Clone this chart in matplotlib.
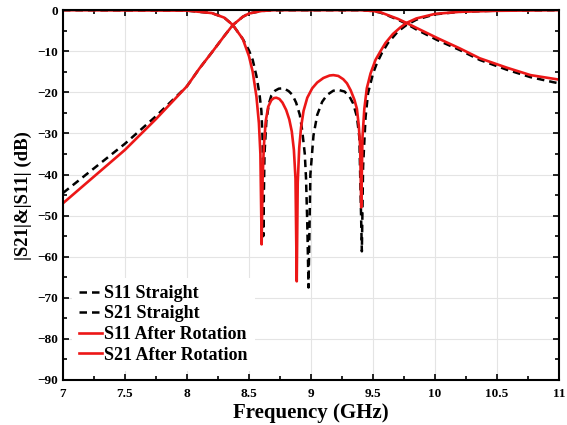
import numpy as np
import matplotlib
matplotlib.use("Agg")
import matplotlib.pyplot as plt
from matplotlib.ticker import MultipleLocator

plt.rcParams["font.family"] = ["Liberation Serif", "DejaVu Serif"]
plt.rcParams["font.weight"] = "bold"

# S11 straight (black dashed)
f_s11_st = [7.0, 8.0, 8.2, 8.3, 8.37, 8.45, 8.5, 8.53, 8.56, 8.585, 8.6, 8.61, 8.615, 8.625, 8.64,
            8.66, 8.68, 8.71, 8.74, 8.78, 8.82, 8.85, 8.88, 8.91, 8.93, 8.95, 8.96, 8.97, 8.98,
            8.995, 9.02, 9.05, 9.09, 9.13, 9.18, 9.22, 9.27, 9.31, 9.34, 9.37, 9.39, 9.41, 9.42,
            9.44, 9.46, 9.5, 9.53, 9.57, 9.62, 9.7, 9.77, 9.85, 10.0, 10.2, 10.5, 11.0]
s11_st = [0.0, -0.1, -0.7, -1.8, -3.6, -7.0, -9.8, -12.1, -16.0, -20.5, -24.5, -31.6, -55.0, -35.0, -27.0,
          -22.8, -20.8, -19.6, -19.1, -19.0, -19.7, -20.6, -22.5, -25.5, -29.5, -35.0, -41.0, -52.0, -67.5,
          -40.0, -30.5, -25.5, -22.3, -20.6, -19.6, -19.4, -19.8, -21.0, -22.7, -25.9, -31.0, -58.7, -38.0,
          -26.0, -20.2, -15.4, -13.0, -10.5, -8.0, -5.2, -3.6, -2.3, -1.0, -0.4, -0.1, 0.0]

# S21 straight (black dashed)
f_s21_st = [7.0, 7.25, 7.5, 7.75, 8.0, 8.1, 8.2, 8.3, 8.37, 8.45, 8.5, 8.6, 8.7, 9.4, 9.5, 9.56,
            9.62, 9.7, 9.77, 9.85, 10.02, 10.2, 10.36, 10.58, 10.77, 10.95, 11.0]
s21_st = [-44.5, -38.5, -32.5, -25.8, -18.5, -14.2, -10.3, -6.3, -3.6, -1.6, -0.8, -0.2, 0.0, 0.0, -0.2, -0.6,
          -1.3, -2.3, -3.3, -4.7, -7.3, -9.7, -12.1, -14.5, -16.3, -17.5, -17.8]

# S11 after rotation (red)
f_s11_rot = [7.0, 8.0, 8.2, 8.3, 8.37, 8.45, 8.5, 8.53, 8.56, 8.58, 8.592, 8.602, 8.61, 8.62, 8.635,
             8.655, 8.68, 8.7, 8.72, 8.745, 8.77, 8.8, 8.825, 8.845, 8.862, 8.875, 8.885, 8.893, 8.905,
             8.92, 8.94, 8.97, 9.01, 9.05, 9.1, 9.15, 9.18, 9.22, 9.26, 9.29, 9.32, 9.35, 9.37,
             9.385, 9.396, 9.405, 9.415, 9.43, 9.45, 9.48, 9.52, 9.56, 9.6, 9.66, 9.72, 9.77, 9.85,
             10.0, 10.2, 10.5, 11.0]
s11_rot = [0.0, -0.1, -0.7, -1.8, -3.6, -7.0, -11.2, -15.0, -21.0, -27.5, -35.0, -57.0, -41.0, -33.0, -27.0,
           -23.5, -21.9, -21.4, -21.3, -21.6, -22.5, -24.3, -26.6, -29.5, -34.0, -41.0, -66.0, -42.0, -33.5,
           -28.5, -24.5, -21.3, -19.0, -17.6, -16.5, -15.9, -15.8, -16.0, -16.8, -17.8, -19.5, -21.8, -24.0,
           -28.0, -33.0, -48.0, -31.0, -24.0, -19.0, -15.4, -12.1, -10.0, -8.0, -5.8, -4.2, -3.1, -2.0,
           -0.9, -0.4, -0.15, 0.0]

# S21 after rotation (red)
f_s21_rot = [7.0, 7.25, 7.5, 7.75, 8.0, 8.1, 8.2, 8.3, 8.37, 8.45, 8.5, 8.6, 8.7, 9.4, 9.5, 9.56,
             9.62, 9.7, 9.77, 9.85, 10.02, 10.2, 10.36, 10.58, 10.77, 11.0]
s21_rot = [-47.0, -40.5, -34.0, -26.5, -18.5, -14.2, -10.3, -6.3, -3.6, -1.6, -0.8, -0.2, 0.0, 0.0, -0.2, -0.5,
           -1.2, -2.1, -3.1, -4.3, -6.8, -9.3, -11.7, -14.0, -15.8, -16.9]

fig = plt.figure(figsize=(5.67, 4.25), dpi=100)
ax = fig.add_axes([0.111, 0.106, 0.875, 0.870])

ax.plot(f_s11_st, s11_st, color="black", lw=1.8, linestyle=(0, (3, 2)), label="S11 Straight")
ax.plot(f_s21_st, s21_st, color="black", lw=1.8, linestyle=(0, (3, 2)), label="S21 Straight")
ax.plot(f_s11_rot, s11_rot, color="#ec1717", lw=1.9, label="S11 After Rotation")
ax.plot(f_s21_rot, s21_rot, color="#ec1717", lw=1.9, label="S21 After Rotation")

ax.set_xlim(7, 11)
ax.set_ylim(-90, 0)
ax.xaxis.set_minor_locator(MultipleLocator(0.25))
ax.yaxis.set_major_locator(MultipleLocator(10))
ax.yaxis.set_minor_locator(MultipleLocator(5))
ax.set_xticks([7, 7.5, 8, 8.5, 9, 9.5, 10, 10.5, 11])
ax.set_xticklabels(["7", "7.5", "8", "8.5", "9", "9.5", "10", "10.5", "11"])
ax.grid(True, which="major", color="#e4e4e4", lw=0.8)
ax.set_axisbelow(True)
ax.tick_params(which="both", direction="in", top=True, right=True, labelsize=9.5, width=1.2)
ax.tick_params(which="major", length=4)
ax.tick_params(which="minor", length=3)
ax.tick_params(axis="x", pad=6)
for s in ax.spines.values():
    s.set_linewidth(1.5)

ax.set_xlabel("Frequency (GHz)", fontsize=15, fontweight="bold", labelpad=2)
ax.set_ylabel("|S21|&|S11| (dB)", fontsize=13.5, fontweight="bold", labelpad=4)

leg = ax.legend(loc="lower left", bbox_to_anchor=(0.0, 0.0),
                prop={"family": "Liberation Serif", "weight": "bold", "size": 13}, frameon=True,
                facecolor="white", edgecolor="none", framealpha=1.0, fancybox=False,
                handlelength=1.25, handletextpad=0.15, labelspacing=0.2, borderpad=0.4)

fig.savefig("out.png", dpi=100)
